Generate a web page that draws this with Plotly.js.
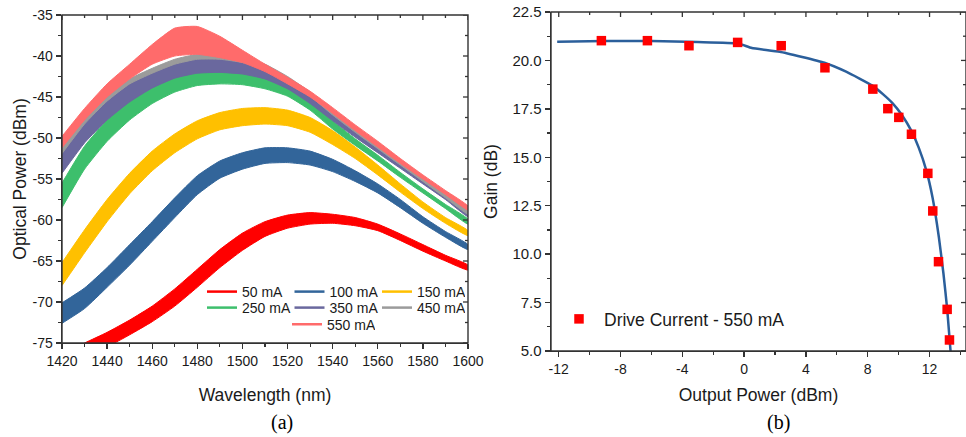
<!DOCTYPE html>
<html><head><meta charset="utf-8">
<script src="https://cdn.plot.ly/plotly-3.0.1.min.js"></script>
<style>html,body{margin:0;padding:0;background:#fff;} #chart{width:966px;height:437px;}</style>
</head><body><div id="chart"></div>
<script>
// ---------- Panel (a): ASE spectra, ripple envelopes (upper / lower) ----------
const wavelength = [1420,1430,1440,1450,1460,1470,1480,1490,1500,1510,1520,1530,1540,1550,1560,1570,1580,1590,1600];
const seriesNames = ['50 mA','100 mA','150 mA','250 mA','350 mA','450 mA','550 mA'];

const p50Upper  = [-76.3,-75.0,-73.7,-72.2,-70.5,-68.4,-66.0,-63.6,-61.6,-60.2,-59.4,-59.1,-59.3,-59.7,-60.5,-61.7,-63.0,-64.3,-65.5];
const p50Lower  = [-78.3,-76.9,-75.5,-74.0,-72.4,-70.5,-68.2,-65.8,-63.7,-62.0,-61.0,-60.5,-60.4,-60.7,-61.3,-62.5,-63.8,-65.0,-66.1];
const p100Upper = [-70.1,-68.3,-65.8,-63.0,-60.2,-57.3,-54.6,-52.8,-51.8,-51.2,-51.2,-51.6,-52.6,-54.0,-55.6,-57.5,-59.6,-61.4,-63.0];
const p100Lower = [-72.6,-70.8,-68.2,-65.5,-62.6,-59.7,-56.9,-54.9,-53.8,-53.1,-53.0,-53.3,-54.1,-55.3,-56.7,-58.5,-60.4,-62.1,-63.6];
const p150Upper = [-65.2,-61.2,-57.5,-54.3,-51.6,-49.5,-47.9,-46.9,-46.4,-46.3,-46.6,-47.5,-49.1,-51.1,-53.3,-55.6,-57.8,-59.7,-61.3];
const p150Lower = [-68.0,-64.0,-60.2,-56.8,-54.0,-51.8,-50.1,-49.0,-48.5,-48.3,-48.5,-49.3,-50.8,-52.5,-54.5,-56.6,-58.6,-60.4,-61.9];
const p250Upper = [-55.5,-51.0,-47.8,-45.3,-43.5,-42.3,-41.7,-41.6,-41.9,-42.5,-43.6,-45.4,-47.9,-50.1,-52.1,-54.2,-56.2,-58.1,-59.9];
const p250Lower = [-58.5,-53.8,-50.4,-47.8,-45.8,-44.4,-43.6,-43.4,-43.5,-44.0,-44.9,-46.6,-48.9,-50.9,-52.8,-54.8,-56.7,-58.6,-60.5];
const p350Upper = [-51.8,-48.2,-45.4,-43.3,-42.0,-40.9,-40.3,-40.3,-40.7,-41.5,-42.9,-44.8,-47.1,-49.2,-51.2,-53.2,-55.2,-57.2,-59.2];
const p350Lower = [-54.3,-50.6,-47.8,-45.6,-43.9,-42.7,-42.1,-42.0,-42.2,-42.8,-44.0,-45.8,-47.9,-49.9,-51.8,-53.7,-55.6,-57.5,-59.6];
const p450Upper = [-51.1,-47.6,-44.9,-42.8,-41.5,-40.4,-39.8,-39.8,-40.2,-41.0,-42.5,-44.4,-46.8,-48.9,-50.9,-52.9,-54.9,-56.9,-58.9];
const p450Lower = [-51.9,-48.3,-45.5,-43.4,-42.1,-41.0,-40.4,-40.4,-40.8,-41.6,-43.0,-44.9,-47.2,-49.3,-51.3,-53.3,-55.3,-57.3,-59.3];
const p550Upper = [-49.8,-46.4,-43.4,-41.0,-38.6,-36.6,-36.4,-37.6,-39.3,-41.0,-42.6,-44.3,-46.3,-48.4,-50.4,-52.5,-54.5,-56.4,-58.3];
const p550Lower = [-51.2,-47.8,-45.0,-42.8,-41.0,-40.0,-39.8,-40.2,-40.8,-41.9,-43.4,-45.0,-47.0,-49.1,-51.1,-53.1,-55.0,-56.9,-58.8];

const wlMajorTicks = [1420,1440,1460,1480,1500,1520,1540,1560,1580,1600];
const wlMinorTicks = [1430,1450,1470,1490,1510,1530,1550,1570,1590];
const powerTickVals   = [-75,-70,-65,-60,-55,-50,-45,-40,-35];
const powerTickLabels = ['-75','-70','-65','-60','-55','-50','-45','-40','-35'];
const powerMinorTicks = [-72.5,-67.5,-62.5,-57.5,-52.5,-47.5,-42.5,-37.5];

// ---------- Panel (b): gain vs output power ----------
const outputPower = [-9.24,-6.26,-3.57,-0.42,2.40,5.23,8.33,9.30,10.01,10.83,11.89,12.21,12.58,13.14,13.29];
const gain        = [21.02,21.02,20.76,20.93,20.76,19.62,18.52,17.51,17.06,16.19,14.17,12.23,9.61,7.15,5.57];
const fitPower = [-12.1,-9.0,-6.0,-3.0,-0.4,0.5,2.3,5.2,6.6,8.3,9.0,9.6,10.2,10.8,11.3,11.8,12.2,12.6,12.9,13.15,13.36];
const fitGain  = [20.97,21.00,21.00,20.95,20.88,20.64,20.45,19.88,19.42,18.70,18.25,17.80,17.20,16.40,15.50,14.30,12.90,10.90,9.00,7.10,5.00];
const scatterName = 'Drive Current - 550 mA';

const outTickVals   = [-12,-8,-4,0,4,8,12];
const outTickLabels = ['-12','-8','-4','0','4','8','12'];
const outMinorTicks = [-10,-6,-2,2,6,10,14];
const gainTickVals   = [5,7.5,10,12.5,15,17.5,20,22.5];
const gainTickLabels = ['5.0','7.5','10.0','12.5','15.0','17.5','20.0','22.5'];
const gainMinorTicks = [6.25,8.75,11.25,13.75,16.25,18.75,21.25];

// ---------- styling ----------
const seriesColors = ['#ff0000','#32659a','#ffc000','#3dbf6c','#6a689e','#9b9b9b','#ff6b6b'];
const legendOf = ['legend','legend','legend','legend2','legend2','legend2','legend3'];
const uppers = [p50Upper,p100Upper,p150Upper,p250Upper,p350Upper,p450Upper,p550Upper];
const lowers = [p50Lower,p100Lower,p150Lower,p250Lower,p350Lower,p450Lower,p550Lower];

const W = 966, H = 437;
const FONT = 'Liberation Sans, Arial, sans-serif';
const TXT = '#1a1a1a';
const AX = '#333333';

const traces = [];
for (let i = 0; i < seriesNames.length; i++) {
  const xs = wavelength.concat(wavelength.slice().reverse());
  const ys = uppers[i].concat(lowers[i].slice().reverse());
  traces.push({type:'scatter', mode:'lines', x:xs, y:ys, fill:'toself', fillcolor:seriesColors[i],
    line:{color:seriesColors[i], width:1, shape:'spline', smoothing:0.5},
    showlegend:false, hoverinfo:'skip', xaxis:'x', yaxis:'y', name:seriesNames[i]});
}
for (let i = 0; i < seriesNames.length; i++) {
  traces.push({type:'scatter', mode:'lines', x:[null], y:[null], name:seriesNames[i],
    line:{color:seriesColors[i], width:2.5}, legend:legendOf[i], xaxis:'x', yaxis:'y'});
}
traces.push({type:'scatter', mode:'lines', x:fitPower, y:fitGain, line:{color:'#2b5f9b', width:2.5, shape:'spline', smoothing:0.4},
  showlegend:false, hoverinfo:'skip', xaxis:'x2', yaxis:'y2', name:'fit'});
traces.push({type:'scatter', mode:'markers', x:outputPower, y:gain, name:scatterName,
  marker:{symbol:'square', size:9.5, color:'#ff0000'}, legend:'legend4', xaxis:'x2', yaxis:'y2'});

function baseAxis(extra) {
  return Object.assign({showline:true, linecolor:AX, linewidth:1.4, showgrid:false, zeroline:false,
    ticks:'outside', ticklen:5, tickwidth:1.3, tickcolor:AX,
    tickfont:{family:FONT, size:14, color:TXT}, fixedrange:true}, extra);
}
const titleFont = {family:FONT, size:17.5, color:TXT};
const legFont = {family:FONT, size:14, color:TXT};

const xd1 = [62/W, 468/W], yd1 = [1-343/H, 1-15/H];
const xd2 = [551/W, 1], yd2 = [1-351/H, 1-12/H];
const pw1 = 406, ph1 = 328, pw2 = 415, ph2 = 339;   // plot-area sizes in px, for tick lengths

// ---------- frame (top / right axes with inward ticks) as shapes on the axes' own scales ----------
const shapes = [];
function frame(xa, ya, pw, ph, xMaj, xMin, yMaj, yMin) {
  shapes.push({type:'rect', xref:xa + ' domain', yref:ya + ' domain', x0:0, x1:1, y0:0, y1:1,
    line:{color:AX, width:1.4}, fillcolor:'rgba(0,0,0,0)', layer:'above'});
  const tick = {color:AX, width:1.3};
  xMaj.forEach(v => shapes.push({type:'line', xref:xa, yref:ya + ' domain', x0:v, x1:v, y0:1, y1:1 - 5/ph, line:tick, layer:'above'}));
  xMin.forEach(v => shapes.push({type:'line', xref:xa, yref:ya + ' domain', x0:v, x1:v, y0:1, y1:1 - 3/ph, line:tick, layer:'above'}));
  yMaj.forEach(v => shapes.push({type:'line', xref:xa + ' domain', yref:ya, x0:1, x1:1 - 5/pw, y0:v, y1:v, line:tick, layer:'above'}));
  yMin.forEach(v => shapes.push({type:'line', xref:xa + ' domain', yref:ya, x0:1, x1:1 - 3/pw, y0:v, y1:v, line:tick, layer:'above'}));
}
frame('x', 'y', pw1, ph1, wlMajorTicks, wlMinorTicks, powerTickVals, powerMinorTicks);
frame('x2', 'y2', pw2, ph2, outTickVals, outMinorTicks, gainTickVals, gainMinorTicks);

const layout = {
  width:W, height:H, margin:{l:0,r:0,t:0,b:0}, paper_bgcolor:'#fff', plot_bgcolor:'rgba(0,0,0,0)',
  font:{family:FONT, color:TXT},
  xaxis: baseAxis({domain:xd1, anchor:'y', range:[1420,1600], dtick:20, tick0:1420,
    minor:{ticks:'outside', ticklen:3, dtick:10, tick0:1420, tickcolor:AX, tickwidth:1.2},
    title:{text:'Wavelength (nm)', font:titleFont, standoff:20}}),
  yaxis: baseAxis({domain:yd1, anchor:'x', range:[-75,-35], tickvals:powerTickVals, ticktext:powerTickLabels,
    minor:{ticks:'outside', ticklen:3, dtick:2.5, tick0:-75, tickcolor:AX, tickwidth:1.2},
    title:{text:'Optical Power (dBm)', font:titleFont, standoff:1}}),
  xaxis2: baseAxis({domain:xd2, anchor:'y2', range:[-12.5,14.36], tickvals:outTickVals, ticktext:outTickLabels,
    minor:{ticks:'outside', ticklen:3, dtick:2, tick0:-12, tickcolor:AX, tickwidth:1.2},
    title:{text:'Output Power (dBm)', font:titleFont, standoff:12}}),
  yaxis2: baseAxis({domain:yd2, anchor:'x2', range:[5,22.5], tickvals:gainTickVals, ticktext:gainTickLabels,
    minor:{ticks:'outside', ticklen:3, dtick:1.25, tick0:5, tickcolor:AX, tickwidth:1.2},
    tickfont:{family:FONT, size:15, color:TXT},
    title:{text:'Gain (dB)', font:titleFont, standoff:10}}),
  shapes: shapes,
  legend:  {orientation:'h', x:202/W, xanchor:'left', y:1-276/H, yanchor:'top', entrywidth:42.5, entrywidthmode:'pixels',
    bgcolor:'rgba(0,0,0,0)', font:legFont, borderwidth:0},
  legend2: {orientation:'h', x:202/W, xanchor:'left', y:1-292/H, yanchor:'top', entrywidth:42.5, entrywidthmode:'pixels',
    bgcolor:'rgba(0,0,0,0)', font:legFont, borderwidth:0},
  legend3: {orientation:'h', x:287/W, xanchor:'left', y:1-308.6/H, yanchor:'top', entrywidth:42.5, entrywidthmode:'pixels',
    bgcolor:'rgba(0,0,0,0)', font:legFont, borderwidth:0},
  legend4: {orientation:'v', x:554/W, xanchor:'left', y:1-301/H, yanchor:'top', itemwidth:40,
    bgcolor:'rgba(0,0,0,0)', font:{family:FONT, size:17.5, color:TXT}, borderwidth:0},
  annotations:[
    {text:'(a)', xref:'paper', yref:'paper', x:282/W, y:1-422/H, xanchor:'center', yanchor:'middle', showarrow:false,
      font:{family:'Liberation Serif, Times New Roman, serif', size:20, color:'#000'}},
    {text:'(b)', xref:'paper', yref:'paper', x:778/W, y:1-422/H, xanchor:'center', yanchor:'middle', showarrow:false,
      font:{family:'Liberation Serif, Times New Roman, serif', size:20, color:'#000'}}
  ]
};

Plotly.newPlot('chart', traces, layout, {displayModeBar:false, staticPlot:true});
</script></body></html>
